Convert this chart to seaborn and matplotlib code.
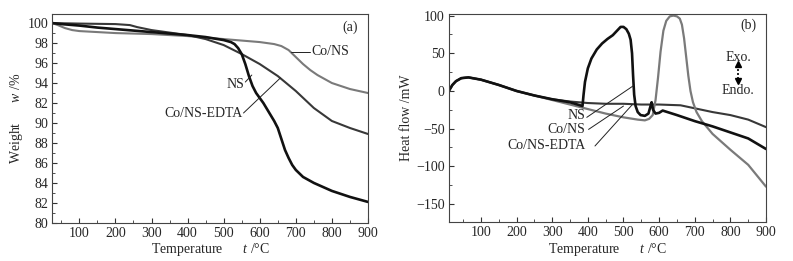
import numpy as np
import pandas as pd
import matplotlib
matplotlib.use("Agg")
import matplotlib.pyplot as plt
import seaborn as sns
from matplotlib.ticker import MultipleLocator

# (a) TGA curves, weight %
t_ns = [25, 50, 100, 150, 200, 250, 300, 350, 400, 450, 500, 520, 530, 540, 550, 560, 570,
        580, 590, 600, 610, 620, 630, 640, 650, 660, 670, 680, 690, 700, 720, 750, 800, 850, 900]
w_ns = [100, 99.9, 99.75, 99.55, 99.4, 99.25, 99.1, 98.95, 98.8, 98.6, 98.3, 98.1, 97.9, 97.5,
        96.9, 95.9, 94.7, 93.7, 93.0, 92.5, 92.0, 91.4, 90.8, 90.2, 89.5, 88.4, 87.3, 86.5,
        85.8, 85.3, 84.6, 84.0, 83.2, 82.6, 82.1]
t_cons = [25, 40, 60, 80, 100, 150, 200, 300, 400, 500, 600, 640, 660, 680, 700, 720, 740,
          760, 780, 800, 850, 900]
w_cons = [100, 99.8, 99.5, 99.3, 99.2, 99.1, 99.0, 98.9, 98.7, 98.4, 98.1, 97.9, 97.7, 97.3,
          96.6, 95.9, 95.3, 94.8, 94.4, 94.0, 93.4, 93.0]
t_edta = [25, 100, 200, 240, 260, 280, 300, 350, 400, 450, 500, 550, 600, 650, 700, 750,
          800, 850, 900]
w_edta = [100, 99.95, 99.9, 99.8, 99.6, 99.45, 99.3, 99.05, 98.8, 98.4, 97.8, 96.9, 95.9,
          94.7, 93.2, 91.5, 90.2, 89.5, 88.9]
a_yticks = [80, 82, 84, 86, 88, 90, 92, 94, 96, 98, 100]
a_ylabels = ["80", "82", "84", "86", "88", "90", "82", "94", "96", "98", "100"]

# (b) DSC curves, heat flow mW
t_dsc_ns = [10, 20, 30, 45, 65, 100, 150, 200, 250, 300, 350, 385, 388, 392, 400, 410, 425,
            440, 455, 470, 482, 492, 500, 508, 515, 520, 524, 527, 530, 534, 540, 548, 560,
            570, 576, 579, 583, 590, 600, 610, 650, 700, 750, 800, 850, 900]
h_dsc_ns = [0, 8, 13, 17, 18, 15, 8, 0, -6, -11, -15, -20, -5, 12, 30, 43, 55, 63, 69, 74,
            80, 85, 85, 82, 76, 68, 50, 20, -5, -20, -28, -32, -33, -30, -20, -15, -25, -30,
            -29, -26, -32, -40, -47, -55, -63, -77]
t_dsc_cons = [10, 20, 30, 45, 65, 100, 150, 200, 250, 300, 350, 400, 450, 500, 540, 560,
              572, 582, 590, 597, 604, 612, 620, 630, 640, 650, 658, 664, 670, 676, 682, 688,
              695, 705, 720, 750, 800, 850, 900]
h_dsc_cons = [0, 8, 13, 17, 18, 15, 8, 0, -6, -12, -18, -24, -30, -35, -38, -39, -37, -32,
              -12, 18, 52, 80, 93, 99, 100, 99, 96, 88, 70, 45, 20, 0, -15, -28, -40, -57,
              -78, -98, -127]
t_dsc_edta = [10, 20, 30, 45, 65, 100, 150, 200, 250, 300, 350, 400, 450, 500, 550, 600, 660,
              700, 750, 800, 850, 900]
h_dsc_edta = [0, 8, 13, 17, 18, 15, 8, 0, -6, -11, -14, -16, -17, -17, -18, -18, -19, -23,
              -28, -32, -38, -48]

BLACK, DARK, GRAY = "#111111", "#383838", "#7a7a7a"
FS = 10

sns.set_style("ticks")
plt.rcParams["font.family"] = ["Liberation Serif", "DejaVu Serif"]
plt.rcParams["mathtext.fontset"] = "custom"
plt.rcParams["mathtext.it"] = "Liberation Serif:italic"
plt.rcParams["mathtext.rm"] = "Liberation Serif"
plt.rcParams["axes.unicode_minus"] = True
plt.rcParams["font.size"] = FS

fig = plt.figure(figsize=(7.93, 2.61), dpi=100)
ax1 = fig.add_axes([0.066, 0.146, 0.398, 0.80])
ax2 = fig.add_axes([0.566, 0.149, 0.400, 0.797])

def df(t, v):
    return pd.DataFrame({"t": t, "v": v})

sns.lineplot(data=df(t_cons, w_cons), x="t", y="v", ax=ax1, color=GRAY, lw=1.5)
sns.lineplot(data=df(t_edta, w_edta), x="t", y="v", ax=ax1, color=DARK, lw=1.5)
sns.lineplot(data=df(t_ns, w_ns), x="t", y="v", ax=ax1, color=BLACK, lw=1.9)

sns.lineplot(data=df(t_dsc_edta, h_dsc_edta), x="t", y="v", ax=ax2, color=DARK, lw=1.5)
sns.lineplot(data=df(t_dsc_cons, h_dsc_cons), x="t", y="v", ax=ax2, color=GRAY, lw=1.6)
sns.lineplot(data=df(t_dsc_ns, h_dsc_ns), x="t", y="v", ax=ax2, color=BLACK, lw=1.9)

for ax in (ax1, ax2):
    for s in ax.spines.values():
        s.set_linewidth(0.8)
        s.set_color("#444444")
    ax.xaxis.set_major_locator(MultipleLocator(100))
    ax.xaxis.set_minor_locator(MultipleLocator(50))
    ax.tick_params(which="both", direction="in", top=False, right=False, labelsize=FS,
                   pad=3, color="#333333")
    ax.tick_params(which="major", length=3.5)
    ax.tick_params(which="minor", length=2)
    ax.set_xlabel(r"Temperature      $\it{t}$ /°C", fontsize=FS, labelpad=1)

ax1.set_xlim(25, 900)
ax1.set_ylim(80, 100.9)
ax1.set_xticks([100, 200, 300, 400, 500, 600, 700, 800, 900])
ax1.set_yticks(a_yticks)
ax1.set_yticklabels(a_ylabels)
ax1.yaxis.set_minor_locator(MultipleLocator(1))
ax1.set_ylabel(r"Weight      $\it{w}$ /%", fontsize=FS, labelpad=2)
ax1.text(850, 99.6, "(a)", ha="center", va="center", fontsize=FS)

ax1.plot([688, 740], [97.15, 97.15], color="#222222", lw=0.7)
ax1.text(742, 97.15, "Co/NS", ha="left", va="center", fontsize=FS)
ax1.plot([560, 578], [94.1, 94.8], color="#222222", lw=0.7)
ax1.text(558, 93.9, "NS", ha="right", va="center", fontsize=FS)
ax1.plot([555, 657], [91.0, 94.5], color="#222222", lw=0.7)
ax1.text(553, 90.9, "Co/NS-EDTA", ha="right", va="center", fontsize=FS)

ax2.set_xlim(10, 900)
ax2.set_ylim(-174, 102)
ax2.set_xticks([100, 200, 300, 400, 500, 600, 700, 800, 900])
ax2.yaxis.set_major_locator(MultipleLocator(50))
ax2.yaxis.set_minor_locator(MultipleLocator(25))
ax2.set_ylabel("Heat flow /mW", fontsize=FS, labelpad=2)
ax2.text(850, 87, "(b)", ha="center", va="center", fontsize=FS)

ax2.plot([397, 528], [-35, 7], color="#222222", lw=0.7)
ax2.text(393, -32, "NS", ha="right", va="center", fontsize=FS)
ax2.plot([402, 500], [-51, -20], color="#222222", lw=0.7)
ax2.text(393, -51, "Co/NS", ha="right", va="center", fontsize=FS)
ax2.plot([420, 525], [-73, -18], color="#222222", lw=0.7)
ax2.text(393, -73, "Co/NS-EDTA", ha="right", va="center", fontsize=FS)

ax2.text(822, 45, "Exo.", ha="center", va="center", fontsize=FS)
ax2.text(822, 0, "Endo.", ha="center", va="center", fontsize=FS)
ax2.plot([822, 822], [16, 33], color="black", lw=1.2, ls=(0, (1.2, 1.2)))
ax2.plot([822], [36], marker="^", color="black", ms=4.5)
ax2.plot([822], [13], marker="v", color="black", ms=4.5)

fig.savefig("out.png", dpi=100)
